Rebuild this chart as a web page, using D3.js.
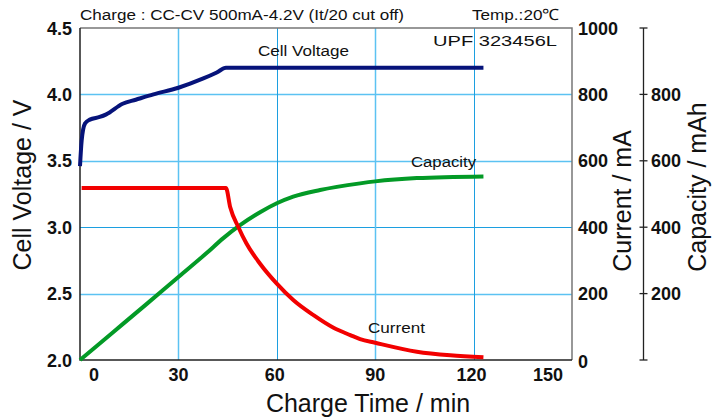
<!DOCTYPE html>
<html>
<head>
<meta charset="utf-8">
<script src="https://cdn.jsdelivr.net/npm/d3@7/dist/d3.min.js"></script>
<style>
  body { margin: 0; background: #fff; }
  text { font-family: "Liberation Sans", Arial, sans-serif; fill: #111; }
  .tick-lbl { font-size: 18px; font-weight: bold; }
  .ax-title { font-size: 25px; }
  .note { font-size: 15.5px; }
</style>
</head>
<body>
<div id="chart"></div>
<script>
const voltTime = [0, 0.5, 1.5, 3, 6, 8, 13, 17, 22.4, 30, 37.6, 41.7, 44.5, 123];
const voltValue = [3.46, 3.65, 3.78, 3.81, 3.83, 3.85, 3.93, 3.96, 4.0, 4.05, 4.12, 4.165, 4.2, 4.2];

const currTime = [0.5, 44.5, 45.8, 48.3, 50.8, 54.9, 60, 65.1, 71.2, 77.3, 82.4, 85.4, 90, 102.7, 112.9, 123];
const currValue = [518, 518, 460, 400, 350, 290, 230, 180, 135, 97, 75, 63, 52, 25, 14, 8];

const capTime = [0, 10, 20, 30, 38.6, 43.7, 48.8, 54.9, 60, 65, 73.2, 85.4, 90, 102.7, 123];
const capValue = [0, 83, 166, 250, 322, 367, 406, 445, 472, 492, 512, 532, 538, 548, 553];

const timeTicks = [0, 30, 60, 90, 120, 150];
const voltTicks = [2.0, 2.5, 3.0, 3.5, 4.0, 4.5];
const currTicks = [0, 200, 400, 600, 800, 1000];
const capTicks = [200, 400, 600, 800];

const width = 712, height = 420;
const plot = {left: 80, right: 572, top: 28, bottom: 360};

let svg = d3.select("#chart")
            .append("svg")
            .attr("width", width)
            .attr("height", height);

let xScale = d3.scaleLinear().domain([0, 150]).range([plot.left, plot.right]);
let yVolt = d3.scaleLinear().domain([2, 4.5]).range([plot.bottom, plot.top]);
let yCurr = d3.scaleLinear().domain([0, 1000]).range([plot.bottom, plot.top]);

// grid lines
svg.append("g")
    .selectAll("line")
    .data(voltTicks.slice(1, -1))
    .enter()
    .append("line")
        .attr("x1", plot.left).attr("x2", plot.right)
        .attr("y1", d => Math.round(yVolt(d)) + 0.5)
        .attr("y2", d => Math.round(yVolt(d)) + 0.5)
        .attr("stroke", (d, i) => i == 1 ? "#1c9fe0" : "#5cc2f2")
        .attr("stroke-width", (d, i) => i == 1 ? 1 : 1.5);
svg.append("g")
    .selectAll("line")
    .data(timeTicks.slice(1, -1))
    .enter()
    .append("line")
        .attr("y1", plot.top).attr("y2", plot.bottom)
        .attr("x1", d => Math.round(xScale(d)) + 0.5)
        .attr("x2", d => Math.round(xScale(d)) + 0.5)
        .attr("stroke", (d, i) => i % 2 == 1 ? "#1c9fe0" : "#5cc2f2")
        .attr("stroke-width", (d, i) => i % 2 == 1 ? 1 : 1.5);

// plot frame
svg.append("path")
    .attr("d", `M${plot.left},${plot.top}H${plot.right}V${plot.bottom}`)
    .attr("fill", "none").attr("stroke", "#777").attr("stroke-width", 1.5);
svg.append("path")
    .attr("d", `M${plot.left},${plot.top}V${plot.bottom}H${plot.right}`)
    .attr("fill", "none").attr("stroke", "#222").attr("stroke-width", 1.5);

// curves
function drawCurve(ts, vs, yScale, color) {
    let pts = ts.map((t, i) => [t, vs[i]]);
    let line = d3.line()
                 .x(d => xScale(d[0]))
                 .y(d => yScale(d[1]))
                 .curve(d3.curveMonotoneX);
    svg.append("path")
        .datum(pts)
        .attr("d", line)
        .attr("fill", "none")
        .attr("stroke", color)
        .attr("stroke-width", 4)
        .attr("stroke-linejoin", "round");
}
drawCurve(capTime, capValue, yCurr, "#039a26");
drawCurve(currTime, currValue, yCurr, "#f20000");
drawCurve(voltTime, voltValue, yVolt, "#06137a");

// left axis labels
svg.append("g")
    .selectAll("text")
    .data(voltTicks)
    .enter()
    .append("text")
        .attr("class", "tick-lbl")
        .attr("x", 72)
        .attr("y", d => yVolt(d) + 6.5)
        .attr("text-anchor", "end")
        .text(d => d.toFixed(1));

// right current labels
svg.append("g")
    .selectAll("text")
    .data(currTicks)
    .enter()
    .append("text")
        .attr("class", "tick-lbl")
        .attr("x", 578)
        .attr("y", d => yCurr(d) + 6.5 + (d == 0 ? 1.5 : 0))
        .text(d => d);

// bottom labels
const xShift = {0: 14, 150: -24};
svg.append("g")
    .selectAll("text")
    .data(timeTicks)
    .enter()
    .append("text")
        .attr("class", "tick-lbl")
        .attr("x", d => xScale(d) + (xShift[d] || 0) - (d == 60 || d == 120 ? 2 : 0))
        .attr("y", 381)
        .attr("text-anchor", "middle")
        .text(d => d);

// separate capacity axis
const capX = 643.5;
svg.append("line")
    .attr("x1", capX).attr("x2", capX)
    .attr("y1", plot.top).attr("y2", plot.bottom)
    .attr("stroke", "#222").attr("stroke-width", 1.3);
svg.append("g")
    .selectAll("line")
    .data([0].concat(capTicks, [1000]))
    .enter()
    .append("line")
        .attr("x1", capX - 4).attr("x2", capX + 4)
        .attr("y1", d => yCurr(d)).attr("y2", d => yCurr(d))
        .attr("stroke", "#222").attr("stroke-width", 1.3);
svg.append("g")
    .selectAll("text")
    .data(capTicks)
    .enter()
    .append("text")
        .attr("class", "tick-lbl")
        .attr("x", 651)
        .attr("y", d => yCurr(d) + 6.5)
        .text(d => d);

// axis titles
svg.append("text")
    .attr("class", "ax-title")
    .attr("transform", "translate(31,185) rotate(-90)")
    .attr("text-anchor", "middle")
    .text("Cell Voltage / V");
svg.append("text")
    .attr("class", "ax-title")
    .attr("transform", "translate(631,201) rotate(-90)")
    .attr("text-anchor", "middle")
    .text("Current / mA");
svg.append("text")
    .attr("class", "ax-title")
    .attr("transform", "translate(706,187) rotate(-90)")
    .attr("text-anchor", "middle")
    .text("Capacity / mAh");
svg.append("text")
    .attr("class", "ax-title")
    .attr("x", 368)
    .attr("y", 412)
    .attr("text-anchor", "middle")
    .text("Charge Time / min");

// header and annotations (reference font is a bit wide, so fit lengths)
function note(x, y, len, str) {
    svg.append("text")
        .attr("class", "note")
        .attr("x", x).attr("y", y)
        .attr("textLength", len)
        .attr("lengthAdjust", "spacingAndGlyphs")
        .text(str);
}
note(80, 19.5, 324, "Charge : CC-CV 500mA-4.2V (It/20 cut off)");
note(472, 19.5, 87, "Temp.:20℃");
note(433, 46, 124, "UPF 323456L");
note(258, 56, 91, "Cell Voltage");
note(411, 167, 65, "Capacity");
note(368, 333, 57, "Current");
</script>
</body>
</html>
